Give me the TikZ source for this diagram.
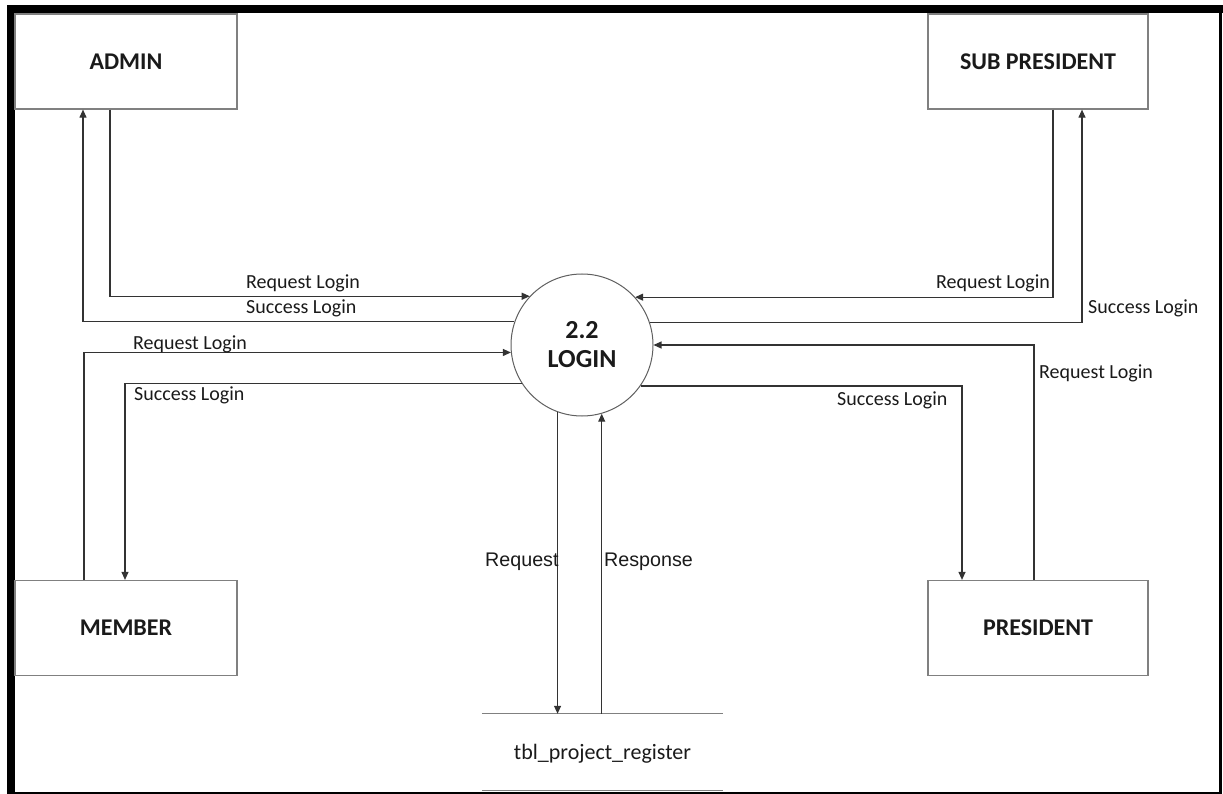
\documentclass[tikz,border=0pt]{standalone}
\usepackage{fontspec}
\setmainfont{Carlito}
\newfontfamily\arialf{Liberation Sans}
\usetikzlibrary{arrows.meta}
\definecolor{boxgray}{HTML}{808080}
\definecolor{linegray}{HTML}{333333}
\definecolor{circgray}{HTML}{606060}
\definecolor{txt}{HTML}{1A1A1A}
\begin{document}
\begin{tikzpicture}[x=1pt,y=-1pt,
  ent/.style={draw=boxgray, line width=1.2pt, minimum width=222pt, minimum height=95pt,
    font=\fontsize{24}{28}\selectfont\bfseries, text=txt, inner sep=0pt, text depth=0pt},
  flow/.style={draw=linegray, line width=1.1pt, -{Triangle[length=8pt,width=7pt]}},
  lbl/.style={font=\fontsize{20}{22}\selectfont, text=txt, inner sep=0pt, anchor=west},
  albl/.style={font=\arialf\fontsize{19.7}{22}\selectfont, text=txt, inner sep=0pt, anchor=west},
]
\useasboundingbox (0,0) rectangle (1223,794);
% frame
\fill[black] (7,5) rectangle (1223,13);
\fill[black] (7,5) rectangle (15,794);
\fill[black] (1218.5,5) rectangle (1222,794);
\fill[black] (7,791.5) rectangle (1222,793.5);

% entities
\node[ent] (admin) at (126,61.5) {ADMIN};
\node[ent, minimum width=220pt] (subp) at (1038,61.5) {SUB PRESIDENT};
\node[ent] (member) at (126,628) {MEMBER};
\node[ent, minimum width=220pt] (pres) at (1038,628) {PRESIDENT};

% process
\node[circle, draw=circgray, line width=1pt, minimum size=142pt, inner sep=0pt,
  align=center, font=\fontsize{26}{29}\selectfont\bfseries, text=txt] (login) at (582,345) {2.2\\LOGIN};

% data store
\node[minimum width=241pt, minimum height=76pt, inner sep=0pt, text depth=0pt,
  font=\fontsize{22}{24}\selectfont, text=txt] (store) at (602.5,752) {tbl\_project\_register};
\draw[boxgray, line width=1.2pt] (store.north west) -- (store.north east);
\draw[boxgray, line width=1.2pt] (store.south west) -- (store.south east);

% flows
\draw[flow] ([xshift=-16pt]admin.south) |- (login.137.5);
\draw[flow] (login.161.1) -| ([xshift=-43pt]admin.south);
\draw[flow] ([xshift=-42pt]member.north) |- (login.186.5);
\draw[flow] (login.213.3) -| ([xshift=-1pt]member.north);
\draw[flow] ([xshift=15pt]subp.south) |- (login.42.5);
\draw[flow] (login.18.9) -| ([xshift=44pt]subp.south);
\draw[flow] ([xshift=-4pt]pres.north) |- (login.-0.8);
\draw[flow] (login.-35.3) -| ([xshift=-76pt]pres.north);
\draw[flow] (login.250.2) -- (login.250.2 |- store.north);
\draw[flow] (login.286.4 |- store.north) -- (login.286.4);

% labels
\node[lbl] (l1) at (246,283) {Request Login};
\node[lbl] (l2) at (246,308) {Success Login};
\node[lbl] (l3) at (133,344) {Request Login};
\node[lbl] (l4) at (134,395) {Success Login};
\node[lbl] (l5) at (936,283) {Request Login};
\node[lbl] (l6) at (1088,308) {Success Login};
\node[lbl] (l7) at (1039,373) {Request Login};
\node[lbl] (l8) at (837,400) {Success Login};
\node[albl] (l9) at (485,562) {Request};
\node[albl] (l10) at (604,562) {Response};
\end{tikzpicture}
\end{document}
